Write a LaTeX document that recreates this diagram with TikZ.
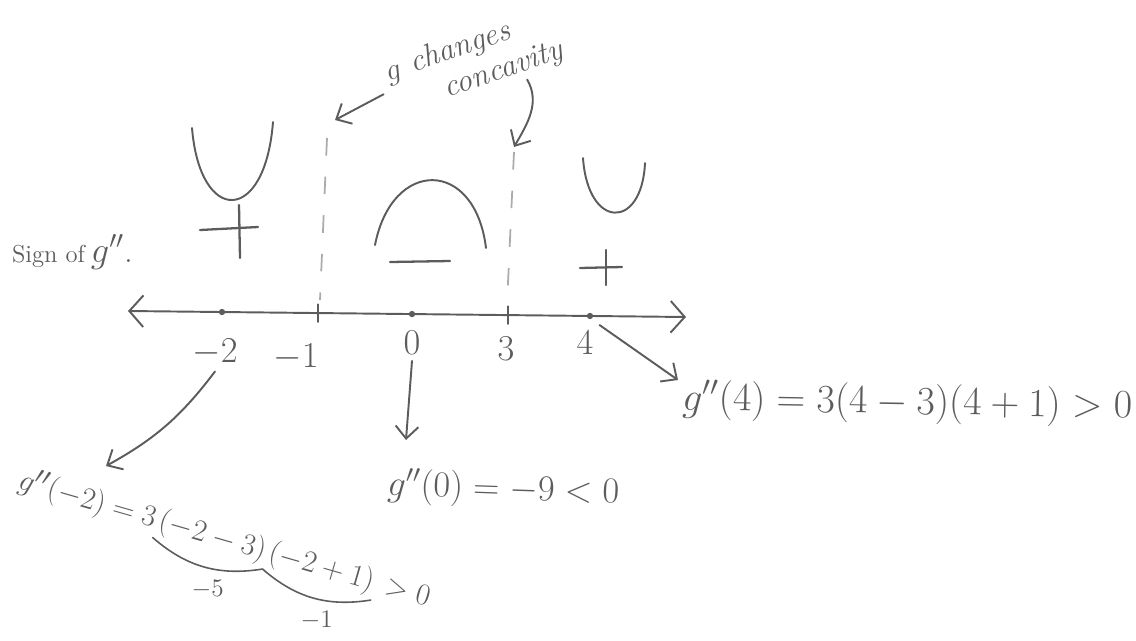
\documentclass[tikz,border=0pt]{standalone}
\usepackage{amsmath}
\usepackage{graphicx}
\usetikzlibrary{arrows.meta,positioning,calc}
\definecolor{pencil}{HTML}{5C5C5C}
\definecolor{faint}{HTML}{ABABAB}
\tikzset{
  pen/.style={draw=pencil, line width=1.1pt, line cap=round},
  arr/.style={pen, -{Straight Barb[length=7pt,width=13pt]}},
  lbl/.style={text=pencil, font=\fontsize{20}{24}\selectfont},
  eq/.style={text=pencil, font=\fontsize{21}{25}\selectfont, inner sep=1pt},
  eqtilt/.style={eq, font=\fontsize{19}{23}\selectfont, rotate=-16, anchor=base west},
  small/.style={text=pencil, font=\fontsize{14}{16}\selectfont, inner sep=1pt},
  note/.style={text=pencil, font=\fontsize{18}{20}\selectfont\itshape, inner sep=1pt},
  signmark/.style={pen, line width=1.3pt},
}
\begin{document}
\begin{tikzpicture}[x=0.02cm, y=-0.02cm]
  \useasboundingbox (0,0) rectangle (1136,640);

  % number line
  \draw[pen, {Straight Barb[length=8pt,width=18pt]}-{Straight Barb[length=8pt,width=18pt]}] (128,311) -- (686,317);

  % points on the line
  \foreach \x/\nm in {222/pm2, 318/pm1, 412/p0, 508/p3, 590/p4} {
    \coordinate (\nm) at (\x,{311+(\x-128)*6/558});
  }
  \foreach \nm in {pm2,p0,p4} \fill[pencil] (\nm) circle (1.8pt);
  \foreach \nm in {pm1,p3} \draw[pen] ([yshift=5pt]\nm) -- ([yshift=-5pt]\nm);

  % labels under the line
  \node[lbl] (lm2) at (215,352) {$-2$};
  \node[lbl] (lm1) at (296,357) {$-1$};
  \node[lbl] (l0) at (412,343) {$0$};
  \node[lbl] (l3) at (506,349) {$3$};
  \node[lbl] (l4) at (585,343) {$4$};

  % where concavity changes
  \draw[faint, line width=1pt, dash pattern=on 10pt off 12pt] (327,138) -- (320,300);
  \draw[faint, line width=1pt, dash pattern=on 10pt off 12pt] (514,152) -- (507,305);

  % shapes of g
  \draw[pen] (192,128) .. controls (200,225) and (265,225) .. (273,122);
  \draw[pen] (375,245) .. controls (392,158) and (475,158) .. (486,248);
  \draw[pen] (583,158) .. controls (588,230) and (642,230) .. (645,163);

  % signs
  \draw[signmark] (200,230) -- (258,227);
  \draw[signmark] (239,205) -- (240,258);
  \draw[signmark] (390,262) -- (450,261);
  \draw[signmark] (580,268) -- (622,267);
  \draw[signmark] (606,250) -- (606,285);

  \node[text=pencil, anchor=base west, inner sep=1pt] (signlbl) at (10,262)
    {{\fontsize{14}{16}\selectfont Sign of} {\fontsize{20}{24}\selectfont$g''$.}};

  % note at the top
  \node[note, rotate=19, align=left] (chg) at (474,62) {$g$ changes\\\hspace*{1.6em}concavity};
  \coordinate (tipL) at (335,120);
  \coordinate (tipR) at (514,147);
  \draw[arr, shorten <=4pt] (chg.west) -- (tipL);
  \draw[arr] ($(chg.south)!0.5!(chg.south east)$) to[out=-60, in=60] (tipR);

  % g'' at -2
  \node[eqtilt] (gm2) at (15,488) {$g''(-2)=3$};
  \node[eqtilt] (fa) at (gm2.base east) {$(-2-3)$};
  \node[eqtilt] (fb) at (fa.base east) {$(-2+1)$};
  \node[eqtilt] (gt) at (fb.base east) {${}>0$};
  \draw[pen, line width=0.9pt] (fa.south west) to[bend right=25] (fa.south east);
  \draw[pen, line width=0.9pt] (fb.south west) to[bend right=25] (fb.south east);
  \node[small, below=14pt of fa.south] (m5) {$-5$};
  \node[small, below=14pt of fb.south] (m1) {$-1$};
  \coordinate (tipA) at (106,466);
  \draw[arr] (lm2.south) to[bend left=12] (tipA);

  % g'' at 0
  \node[eq, rotate=-2, anchor=base west] (g0) at (385,495) {$g''(0)=-9<0$};
  \coordinate (tipB) at (406,440);
  \draw[arr] (l0.south) -- (tipB);

  % g'' at 4
  \node[eq, rotate=-1, anchor=base west] (g4) at (680,410) {\scalebox{1.1}{$g''(4)=3(4-3)(4+1)>0$}};
  \coordinate (tipC) at (678,380);
  \draw[arr] (l4.north east) -- (tipC);
\end{tikzpicture}
\end{document}
